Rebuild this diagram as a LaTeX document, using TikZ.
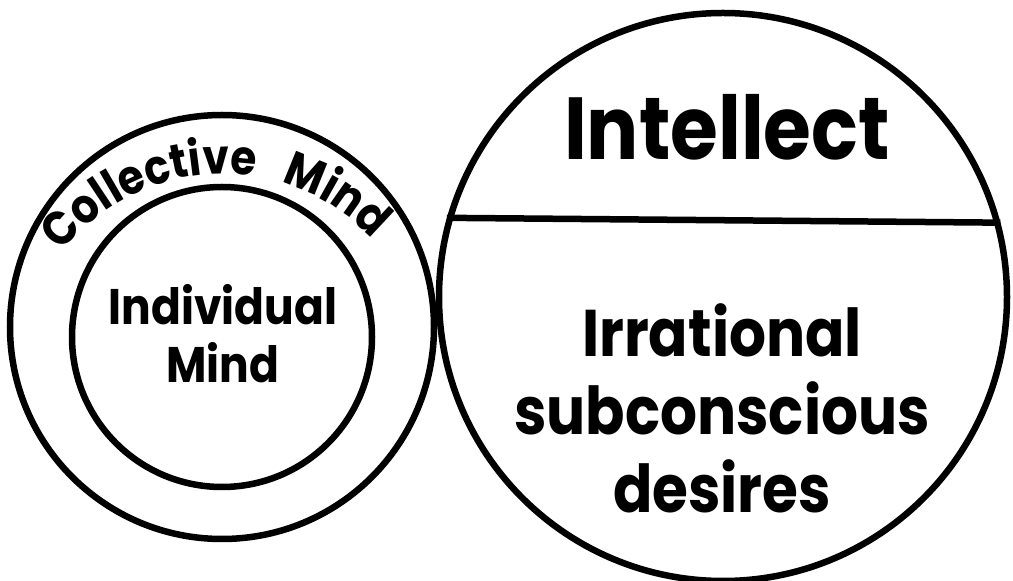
\documentclass[tikz,border=0pt]{standalone}
\usepackage{fontspec}
\newfontfamily\popfont{Poppins}[FakeStretch=0.88]
\usepackage{tikz}
\usetikzlibrary{positioning, calc, decorations.text}

\begin{document}
\begin{tikzpicture}[
    x=1pt, y=1pt,
    ring/.style={circle, draw=black, line width=6.5pt, inner sep=0pt},
    label/.style={align=center, inner sep=0pt, text=black},
]
    \useasboundingbox (0,0) rectangle (1013,581);

    \node[ring, minimum size=424pt] (outer) at (222,254) {};
    \node[ring, minimum size=300pt] (inner) at (222,244) {};
    \node[ring, minimum size=568pt] (split) at (723,284) {};
    \coordinate (arcmid) at (223,203);

    \draw[line width=6.5pt] (split.164.9) -- (split.15.1);

    \node[label, font=\popfont\bfseries\fontsize{50}{58}\selectfont] (individual) at (223,247.5) {Individual\\Mind};
    \node[label, font=\popfont\bfseries\fontsize{88}{100}\selectfont, anchor=base] (intellect) at (727,421) {Intellect};
    \node[label, font=\popfont\bfseries\fontsize{66}{78}\selectfont] (desires) at (722,172.5) {Irrational\\subconscious\\desires};

    % text round the outer ring
    \path[decorate, decoration={text along path, text align=fit to path,
        text={|\popfont\bfseries\fontsize{48}{52}\selectfont|Collective{ }{ }{ }Mind}}]
        ($(arcmid)+(142:204)$) arc[start angle=142, end angle=45, radius=204];
\end{tikzpicture}
\end{document}
